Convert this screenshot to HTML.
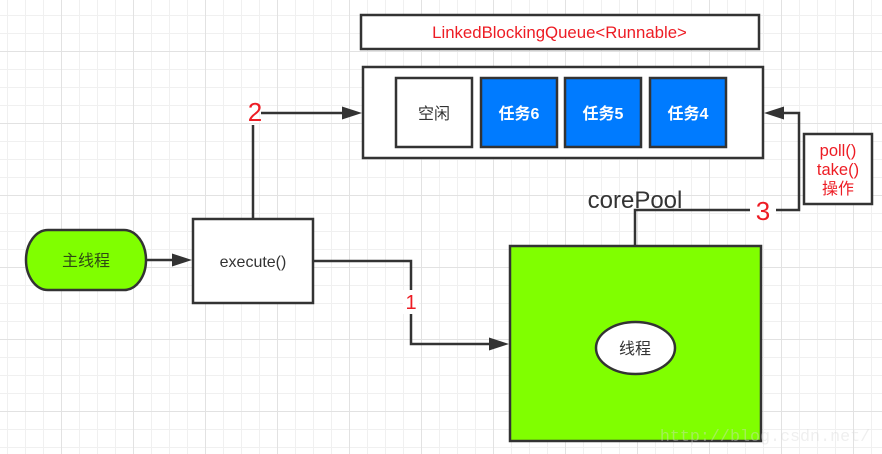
<!DOCTYPE html>
<html>
<head>
<meta charset="utf-8">
<style>
html,body{margin:0;padding:0;background:#fff;width:882px;height:454px;overflow:hidden}
svg{display:block}
text{font-family:"Liberation Sans","Noto Sans CJK SC",sans-serif;text-anchor:middle}
</style>
</head>
<body>
<svg width="882" height="454" viewBox="0 0 882 454" xmlns="http://www.w3.org/2000/svg">
<defs>
<pattern id="minor" width="18" height="18" patternUnits="userSpaceOnUse" x="7" y="15">
<path d="M.5 0V18M0 .5H18" fill="none" stroke="#f0f0f0" stroke-width="1"/>
</pattern>
<pattern id="major" width="72" height="72" patternUnits="userSpaceOnUse" x="61" y="51">
<path d="M.5 0V72M0 .5H72" fill="none" stroke="#e2e2e2" stroke-width="1"/>
</pattern>
</defs>
<rect width="882" height="454" fill="#fff"/>
<rect width="882" height="454" fill="url(#minor)"/>
<rect width="882" height="454" fill="url(#major)"/>

<g fill="none" stroke="#333" stroke-width="2.500">
<path d="M146 260H178"/>
<path d="M253 218V125"/>
<path d="M261 113H346"/>
<path d="M314 261H411V344H494"/>
<path d="M635 246V210H799V113H780"/>
</g>
<g fill="#333">
<path d="M172 253.500L192 260L172 266.500Z"/>
<path d="M342 106.500L362 113L342 119.500Z"/>
<path d="M489 337.500L509 344L489 350.500Z"/>
<path d="M784 106.500L764 113L784 119.500Z"/>
</g>

<g stroke="#333" stroke-width="2.500">
<rect x="361" y="15" width="398" height="34" fill="#fff"/>
<rect x="363" y="67" width="400" height="91" fill="#fff"/>
<rect x="396" y="78" width="76" height="69" fill="#fff"/>
<rect x="481" y="78" width="76" height="69" fill="#007bff"/>
<rect x="565" y="78" width="76" height="69" fill="#007bff"/>
<rect x="650" y="78" width="76" height="69" fill="#007bff"/>
<rect x="26" y="230" width="120" height="60" rx="22" ry="30" fill="#80ff00"/>
<rect x="193" y="219" width="120" height="84" fill="#fff"/>
<rect x="510" y="246" width="251" height="195" fill="#80ff00"/>
<ellipse cx="635.500" cy="348" rx="39.500" ry="26" fill="#fff"/>
<rect x="804" y="134" width="68" height="70" fill="#fff"/>
</g>

<rect x="403" y="290" width="16" height="24" fill="#fff"/>
<rect x="750" y="203" width="26" height="16" fill="#fff"/>

<g font-size="16">
<text x="559.500" y="38" fill="#ed1c24" font-size="16.800">LinkedBlockingQueue&lt;Runnable&gt;</text>
<text x="434" y="119" fill="#333">空闲</text>
<text x="519" y="119" fill="#fff" font-weight="bold">任务6</text>
<text x="603" y="119" fill="#fff" font-weight="bold">任务5</text>
<text x="688" y="119" fill="#fff" font-weight="bold">任务4</text>
<text x="86" y="266" fill="#2f4a14">主线程</text>
<text x="253" y="267" fill="#333">execute()</text>
<text x="635" y="354" fill="#333">线程</text>
<text x="838" y="156" fill="#ed1c24" font-size="16.500">poll()</text>
<text x="838" y="175" fill="#ed1c24" font-size="16.500">take()</text>
<text x="838" y="194" fill="#ed1c24">操作</text>
</g>
<text x="411" y="309" font-size="20" fill="#ed1c24">1</text>
<text x="255" y="121" font-size="26" fill="#ed1c24">2</text>
<text x="763" y="220" font-size="26" fill="#ed1c24">3</text>
<text x="635" y="208" font-size="24" fill="#333">corePool</text>
<text x="765" y="441" font-size="16.700" fill="#d6d6d6" fill-opacity=".4" style="font-family:'Liberation Mono',monospace">http://blog.csdn.net/</text>
</svg>
</body>
</html>
